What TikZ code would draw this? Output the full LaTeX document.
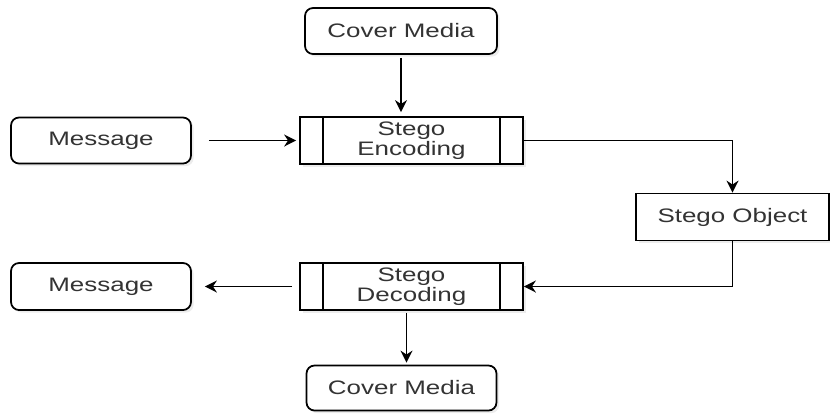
\documentclass[tikz,border=0pt]{standalone}
\usepackage{fontspec}
\setmainfont{Liberation Sans}[FakeStretch=1.33]
\usetikzlibrary{arrows.meta,shadows}

\tikzset{
  box/.style={draw, line width=1pt, fill=white, text=black!80, inner sep=0pt,
    minimum width=3.84cm, minimum height=0.92cm,
    drop shadow={opacity=0.15, shadow xshift=1.5pt, shadow yshift=-1.5pt}},
  roundbox/.style={box, rounded corners=0.16cm},
  procbox/.style={box, align=center, minimum width=4.46cm, minimum height=0.94cm,
    path picture={
      \draw[line width=1pt]
        ([xshift=0.46cm]path picture bounding box.north west) -- ([xshift=0.46cm]path picture bounding box.south west)
        ([xshift=-0.46cm]path picture bounding box.north east) -- ([xshift=-0.46cm]path picture bounding box.south east);}},
  flow/.style={-{Stealth[length=0.24cm,width=0.24cm]}, line width=1pt},
}

\begin{document}
\begin{tikzpicture}[x=0.02cm, y=-0.02cm, font=\fontsize{11.1}{11.4}\selectfont]
    \useasboundingbox (0,0) rectangle (830,414);
    % sender side
    \node[roundbox] (cover) at (401,31) {Cover Media};
    \node[roundbox, minimum width=3.6cm] (msgin) at (101,140.5) {Message};
    \node[procbox] (enc) at (411.5,140.5) {Stego\\Encoding};
    \node[box, minimum width=3.86cm, minimum height=0.94cm] (obj) at (732.5,217) {Stego Object};
    % receiver side
    \node[procbox] (dec) at (411.5,286.5) {Stego\\Decoding};
    \node[roundbox, minimum width=3.6cm, minimum height=0.94cm] (msgout) at (101,286.5) {Message};
    \node[roundbox, minimum width=3.8cm, minimum height=0.9cm] (coverout) at (401.5,388) {Cover Media};

    \draw[flow, shorten <=0.06cm, shorten >=0.08cm] (cover.south) -- (cover.south |- enc.north);
    \draw[flow, shorten <=0.34cm, shorten >=0.06cm] (msgin) -- (enc);
    \draw[flow] (enc.east) -| (obj.north);
    \draw[flow] (obj.south) |- (dec.east);
    \draw[flow, shorten <=0.14cm, shorten >=0.26cm] (dec) -- (msgout);
    \draw[flow, shorten <=0.04cm, shorten >=0.04cm] ([xshift=-0.1cm]dec.south) -- ([xshift=-0.1cm]dec.south |- coverout.north);
\end{tikzpicture}
\end{document}
